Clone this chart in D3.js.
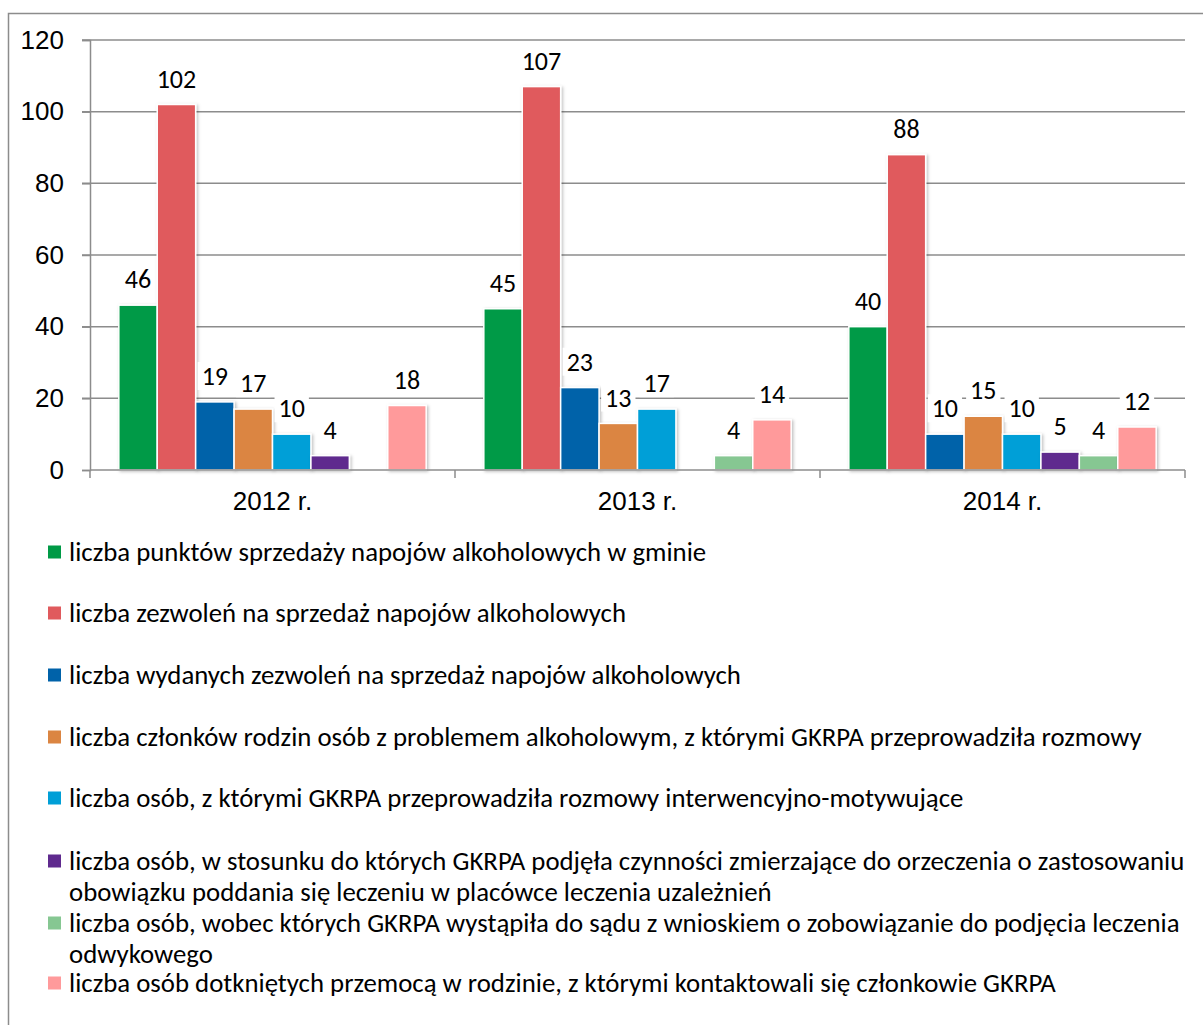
<!DOCTYPE html>
<html>
<head>
<meta charset="utf-8">
<script src="https://cdn.jsdelivr.net/npm/d3@7"></script>
<style>
  body { margin: 0; background: #fff; }
  svg { display: block; font-family: Carlito, Lato, "Noto Sans", sans-serif; }
</style>
</head>
<body>
<svg id="chart" width="1203" height="1025"></svg>
<script>
// categories (years) and series
const years = ["2012 r.", "2013 r.", "2014 r."];
const seriesNames = [
  ["liczba punktów sprzedaży napojów alkoholowych w gminie"],
  ["liczba zezwoleń na sprzedaż napojów alkoholowych"],
  ["liczba wydanych zezwoleń na sprzedaż napojów alkoholowych"],
  ["liczba członków rodzin osób z problemem alkoholowym, z którymi GKRPA przeprowadziła rozmowy"],
  ["liczba osób, z którymi GKRPA przeprowadziła rozmowy interwencyjno-motywujące"],
  ["liczba osób, w stosunku do których GKRPA podjęła czynności zmierzające do orzeczenia o zastosowaniu",
   "obowiązku poddania się leczeniu w placówce leczenia uzależnień"],
  ["liczba osób, wobec których GKRPA wystąpiła do sądu z wnioskiem o zobowiązanie do podjęcia leczenia",
   "odwykowego"],
  ["liczba osób dotkniętych przemocą w rodzinie, z którymi kontaktowali się członkowie GKRPA"]
];
const colors = ["#009a46", "#e05a5d", "#0062a9", "#db8542", "#009fd7", "#5f2a8e", "#86c792", "#ff9a9b"];

// values per series, one per year (null = no bar)
const punkty      = [46, 45, 40];
const zezwolenia  = [102, 107, 88];
const wydane      = [19, 23, 10];
const rodziny     = [17, 13, 15];
const interwencja = [10, 17, 10];
const orzeczenie  = [4, null, 5];
const sad         = [null, 4, 4];
const przemoc     = [18, 14, 12];
const values = [punkty, zezwolenia, wydane, rodziny, interwencja, orzeczenie, sad, przemoc];

const yTicks = [0, 20, 40, 60, 80, 100, 120];

const svg = d3.select("#chart");
const GRID = "#8c8c8c";
const FS = 26;

// outer frame
svg.append("path")
  .attr("d", "M8.5,1025 V13.5 H1203")
  .attr("fill", "none").attr("stroke", GRID).attr("stroke-width", 1.5);

const defs = svg.append("defs");
const f = defs.append("filter").attr("id", "sh")
  .attr("x", "-20%").attr("y", "-20%").attr("width", "150%").attr("height", "150%");
f.append("feDropShadow").attr("dx", 1.5).attr("dy", 1).attr("stdDeviation", 1.5)
  .attr("flood-color", "#000").attr("flood-opacity", 0.25);

const x0 = d3.scaleBand().domain(years).range([90, 1185]);
const x1 = d3.scaleBand().domain(d3.range(values.length))
  .range([0, x0.bandwidth()]).paddingInner(0).paddingOuter(0.75);
const y = d3.scaleLinear().domain([0, 120]).range([470, 40]);

// gridlines
svg.append("g").selectAll("line")
  .data(yTicks.filter(d => d > 0))
  .join("line")
  .attr("x1", 82).attr("x2", 1185)
  .attr("y1", d => y(d)).attr("y2", d => y(d))
  .attr("stroke", GRID).attr("stroke-width", 1.5);

// y axis
const yAxis = svg.append("g")
  .attr("transform", "translate(90,0)")
  .call(d3.axisLeft(y).tickValues(yTicks).tickSize(8).tickPadding(18));
yAxis.select(".domain").attr("stroke", GRID).attr("stroke-width", 1.5);
yAxis.selectAll(".tick line").attr("stroke", GRID).attr("stroke-width", 1.5);
yAxis.selectAll("text").attr("font-size", FS).attr("fill", "#000").attr("font-family", null);

// bars
const groups = svg.append("g").selectAll("g")
  .data(years)
  .join("g")
  .attr("transform", d => `translate(${x0(d)},0)`);

const cells = groups.selectAll("g")
  .data((yr, gi) => values.map((s, si) => ({ si, v: s[gi] })).filter(d => d.v != null))
  .join("g");

cells.append("rect")
  .attr("x", d => x1(d.si))
  .attr("width", x1.bandwidth())
  .attr("y", d => y(d.v))
  .attr("height", d => y(0) - y(d.v))
  .attr("fill", d => colors[d.si])
  .attr("stroke", "#fff").attr("stroke-width", 1.5)
  .attr("filter", "url(#sh)");

// data labels with white background
cells.each(function(d) {
  const g = d3.select(this);
  const cx = x1(d.si) + x1.bandwidth() / 2;
  const cy = y(d.v) - 26;
  const t = g.append("text")
    .attr("x", cx).attr("y", cy)
    .attr("text-anchor", "middle").attr("dy", "0.35em")
    .attr("font-size", FS).attr("fill", "#000")
    .text(d.v);
  const bb = t.node().getBBox();
  g.insert("rect", "text")
    .attr("x", bb.x - 4).attr("y", bb.y + 2)
    .attr("width", bb.width + 8).attr("height", bb.height - 4)
    .attr("fill", "#fff");
});

// x axis
const xAxis = svg.append("g")
  .attr("transform", "translate(0,470)")
  .call(d3.axisBottom(x0).tickSize(0).tickPadding(22));
xAxis.select(".domain").remove();
xAxis.append("line").attr("x1", 90).attr("x2", 1185)
  .attr("stroke", GRID).attr("stroke-width", 1.5);
xAxis.selectAll(".bound")
  .data(years.map(d => x0(d)).concat([x0.range()[1]]))
  .join("line").attr("class", "bound")
  .attr("x1", d => d).attr("x2", d => d).attr("y1", 0).attr("y2", 8)
  .attr("stroke", GRID).attr("stroke-width", 1.5);
xAxis.selectAll(".tick text").attr("font-size", FS).attr("fill", "#000").attr("font-family", null);

// legend
const rowY = [552, 613, 675, 737, 798, 861, 923, 983];
const legend = svg.append("g").selectAll("g")
  .data(seriesNames)
  .join("g")
  .attr("transform", (d, i) => `translate(48,${rowY[i]})`);
legend.append("rect")
  .attr("x", 0).attr("y", -6.5).attr("width", 13).attr("height", 13)
  .attr("fill", (d, i) => colors[i]);
legend.each(function(lines) {
  const t = d3.select(this).append("text")
    .attr("x", 21).attr("font-size", 26.8).attr("fill", "#000");
  t.selectAll("tspan").data(lines).join("tspan")
    .attr("x", 21).attr("y", (d, j) => j * 31)
    .attr("dy", "0.35em")
    .text(d => d);
});
</script>
</body>
</html>
